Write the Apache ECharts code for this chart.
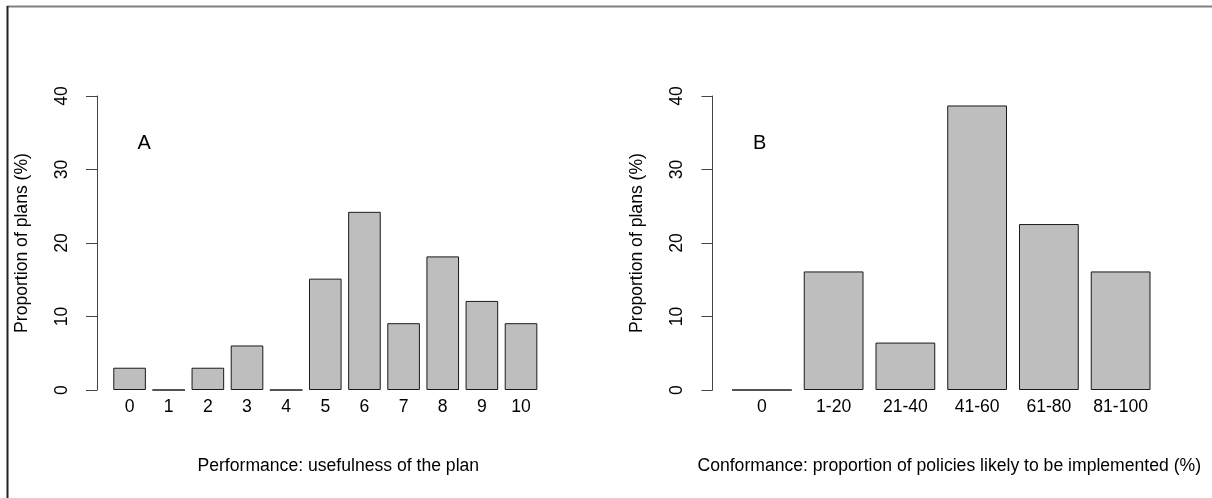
<!DOCTYPE html>
<html>
<head>
<meta charset="utf-8">
<script src="https://cdn.jsdelivr.net/npm/echarts@6/dist/echarts.min.js"></script>
<style>
  html, body { margin: 0; padding: 0; background: #fff; }
  #chart { width: 1212px; height: 498px; }
</style>
</head>
<body>
<div id="chart"></div>
<script>
// ---- data ----
const catsA = ['0','1','2','3','4','5','6','7','8','9','10'];
const valsA = [3.03, 0, 3.03, 6.06, 0, 15.15, 24.24, 9.09, 18.18, 12.12, 9.09];
const catsB = ['0','1-20','21-40','41-60','61-80','81-100'];
const valsB = [0, 16.13, 6.45, 38.71, 22.58, 16.13];
const yTicks = [0, 10, 20, 30, 40];
const titleA = 'Performance: usefulness of the plan';
const titleB = 'Conformance: proportion of policies likely to be implemented (%)';
const yName = 'Proportion of plans (%)';
const panelLabels = ['A', 'B'];

const FONT = '"Liberation Sans", Arial, Helvetica, sans-serif';
const FS = 17.6;

function yAxis(gridIndex, offset) {
  return {
    type: 'value', gridIndex: gridIndex,
    min: yTicks[0], max: yTicks[yTicks.length - 1], interval: 10,
    offset: offset,
    name: yName, nameLocation: 'middle', nameRotate: 90, nameGap: 66,
    nameTextStyle: { color: '#000', fontFamily: FONT, fontSize: FS },
    axisLine: { show: true, lineStyle: { color: '#444', width: 1 } },
    axisTick: { show: true, length: 11, lineStyle: { color: '#444', width: 1 } },
    axisLabel: { rotate: 90, margin: 26, color: '#000', fontFamily: FONT, fontSize: FS },
    splitLine: { show: false }
  };
}
function xAxis(gridIndex, cats, title, shift) {
  return {
    type: 'category', gridIndex: gridIndex, data: cats,
    name: title, nameLocation: 'middle', nameGap: 67,
    nameTextStyle: { color: '#000', fontFamily: FONT, fontSize: FS,
                     padding: shift >= 0 ? [0, 0, 0, 2 * shift] : [0, -2 * shift, 0, 0] },
    axisLine: { show: false }, axisTick: { show: false },
    axisLabel: { margin: 8, color: '#000', fontFamily: FONT, fontSize: FS, interval: 0 },
    splitLine: { show: false }
  };
}
const barStyle = { color: '#bebebe', borderColor: '#1a1a1a', borderWidth: 1 };

const chart = echarts.init(document.getElementById('chart'), null, { renderer: 'canvas' });
chart.setOption({
  backgroundColor: '#fff',
  animation: false,
  grid: [
    { left: 110, width: 430.6, top: 96, bottom: 108 },
    { left: 726, width: 430.5, top: 96, bottom: 108 }
  ],
  xAxis: [ xAxis(0, catsA, titleA, 13), xAxis(1, catsB, titleB, 8) ],
  yAxis: [ yAxis(0, 13), yAxis(1, 13.5) ],
  series: [
    { type: 'bar', xAxisIndex: 0, yAxisIndex: 0, data: valsA, barCategoryGap: '16.7%', itemStyle: barStyle },
    { type: 'bar', xAxisIndex: 1, yAxisIndex: 1, data: valsB, barCategoryGap: '16.7%', itemStyle: barStyle }
  ],
  graphic: [
    { type: 'line', shape: { x1: 7, y1: 6.5, x2: 1212, y2: 6.5 }, style: { stroke: '#808080', lineWidth: 2 } },
    { type: 'line', shape: { x1: 7.5, y1: 6, x2: 7.5, y2: 498 }, style: { stroke: '#222', lineWidth: 2 } },
    { type: 'text', left: 137.5, top: 133, style: { text: panelLabels[0], fill: '#000', font: '20px ' + FONT } },
    { type: 'text', left: 753, top: 133, style: { text: panelLabels[1], fill: '#000', font: '20px ' + FONT } }
  ]
});
</script>
</body>
</html>
